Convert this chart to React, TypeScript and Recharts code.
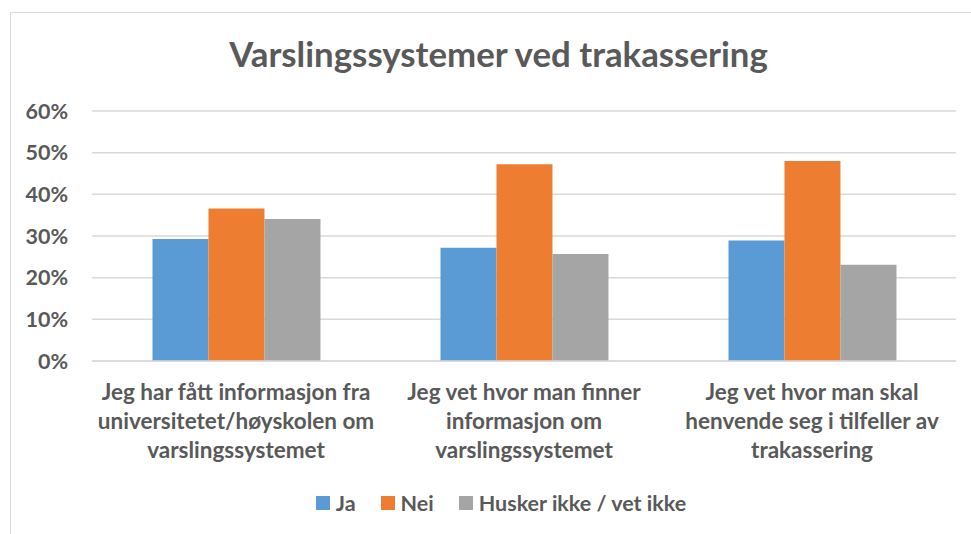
import { BarChart, Bar, XAxis, YAxis, CartesianGrid } from 'recharts';

const title = 'Varslingssystemer ved trakassering';

const categories = [
  'Jeg har fått informasjon fra\nuniversitetet/høyskolen om\nvarslingssystemet',
  'Jeg vet hvor man finner\ninformasjon om\nvarslingssystemet',
  'Jeg vet hvor man skal\nhenvende seg i tilfeller av\ntrakassering',
];

const jaValues = [29.3, 27.2, 28.9];
const neiValues = [36.6, 47.2, 48.0];
const huskerValues = [34.1, 25.7, 23.1];

const yTicks = [0, 10, 20, 30, 40, 50, 60];

const series = [
  { key: 'ja', name: 'Ja', color: '#5B9BD5', values: jaValues },
  { key: 'nei', name: 'Nei', color: '#ED7D31', values: neiValues },
  { key: 'husker', name: 'Husker ikke / vet ikke', color: '#A5A5A5', values: huskerValues },
];

const data = categories.map((category, i) => {
  const row: Record<string, string | number> = { category };
  series.forEach((s) => {
    row[s.key] = s.values[i];
  });
  return row;
});

const FONT = 'Lato, "Open Sans", sans-serif';
const TEXT = '#595959';

function CategoryTick(props: any) {
  const { x, y, payload } = props;
  const lines = String(payload.value).split('\n');
  return (
    <g transform={`translate(${x},${y})`}>
      {lines.map((line, i) => (
        <text
          key={i}
          x={0}
          y={39 + i * 29}
          textAnchor="middle"
          fill={TEXT}
          fontFamily={FONT}
          fontWeight={700}
          fontSize={22.5}
        >
          {line}
        </text>
      ))}
    </g>
  );
}

export default function App() {
  return (
    <div
      style={{
        position: 'fixed',
        left: 0,
        top: 0,
        width: 971,
        height: 534,
        background: '#fff',
        overflow: 'hidden',
        fontFamily: FONT,
      }}
    >
      <div
        style={{
          position: 'absolute',
          left: 10,
          top: 12,
          width: 990,
          height: 560,
          border: '1px solid #d9d9d9',
        }}
      />
      <div
        style={{
          position: 'absolute',
          left: 0,
          width: 997,
          top: 31,
          textAlign: 'center',
          color: TEXT,
          fontWeight: 700,
          fontSize: 34.8,
          lineHeight: '46px',
        }}
      >
        {title}
      </div>
      <div style={{ position: 'absolute', left: 0, top: 0 }}>
        <BarChart
          width={971}
          height={534}
          data={data}
          margin={{ top: 111, right: 15, bottom: 0, left: 0 }}
          barCategoryGap="21%"
          barGap={0}
        >
          <CartesianGrid vertical={false} stroke="#d9d9d9" strokeWidth={1.5} />
          <XAxis
            dataKey="category"
            height={173}
            tickLine={false}
            tickSize={0}
            tickMargin={0}
            axisLine={{ stroke: '#d9d9d9', strokeWidth: 1.5 }}
            tick={<CategoryTick />}
            interval={0}
          />
          <YAxis
            width={92}
            domain={[0, 60]}
            ticks={yTicks}
            tickFormatter={(v: number) => `${v}%`}
            axisLine={false}
            tickLine={false}
            tickSize={0}
            tickMargin={24}
            tick={{ fill: TEXT, fontFamily: FONT, fontWeight: 700, fontSize: 21.5 }}
          />
          {series.map((s) => (
            <Bar key={s.key} dataKey={s.key} name={s.name} fill={s.color} isAnimationActive={false} />
          ))}
        </BarChart>
      </div>
      <div
        style={{
          position: 'absolute',
          left: 0,
          width: 1002,
          top: 489,
          display: 'flex',
          justifyContent: 'center',
          alignItems: 'center',
          gap: 25,
          color: TEXT,
          fontWeight: 700,
          fontSize: 21.5,
          lineHeight: '28px',
        }}
      >
        {series.map((s) => (
          <div key={s.key} style={{ display: 'flex', alignItems: 'center', gap: 6 }}>
            <span style={{ display: 'inline-block', width: 14, height: 14, background: s.color }} />
            <span>{s.name}</span>
          </div>
        ))}
      </div>
    </div>
  );
}
